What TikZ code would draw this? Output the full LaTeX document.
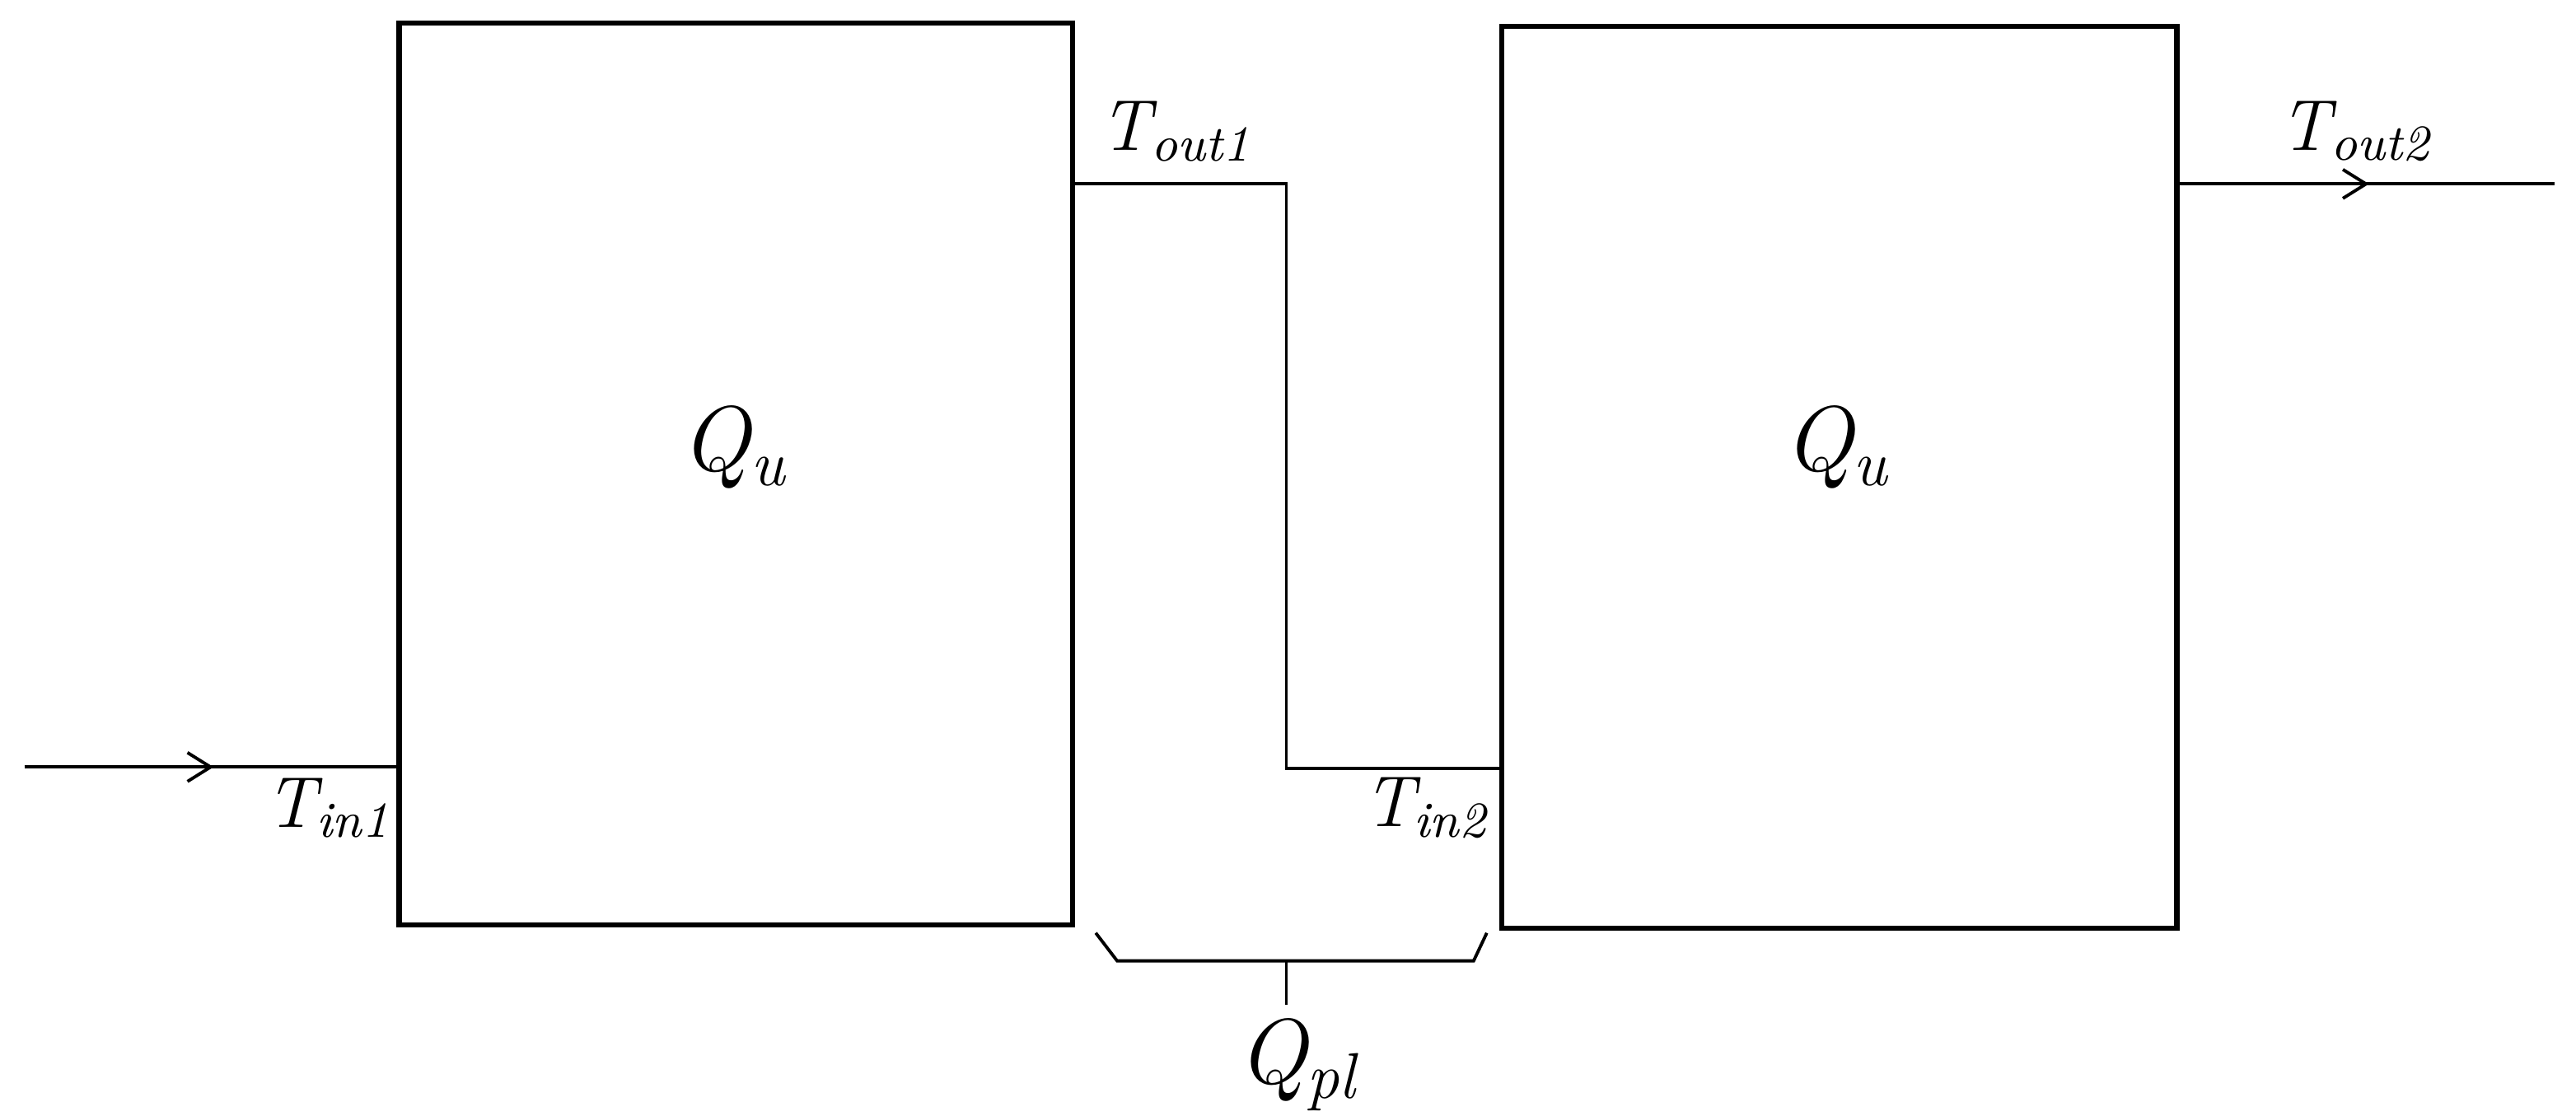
\documentclass[tikz,border=0pt]{standalone}
\usetikzlibrary{arrows.meta}
\begin{document}
\begin{tikzpicture}[x=0.01cm,y=-0.01cm,
  box/.style={draw,line width=0.9pt},
  wire/.style={line width=0.55pt},
  tip/.style={-{Straight Barb[length=4pt,width=5pt]},line width=0.55pt},
  lab/.style={font=\fontsize{12.5}{15}\selectfont\itshape},
  big/.style={font=\fontsize{16}{19}\selectfont\itshape}]
\useasboundingbox (0,0) rectangle (1568,679);
\draw[box] (243,14) rectangle (653,563);
\draw[box] (914,16) rectangle (1325,565);
\node[big] (q1) at (447,272) {Q\textsubscript{u}};
\node[big] (q2) at (1118,272) {Q\textsubscript{u}};
\coordinate (a0) at (15,467); \coordinate (a1) at (130,467); \coordinate (a2) at (243,467);
\draw[wire] (a0) -- (a2); \draw[tip] (a0) -- (a1);
\node[lab] (tin1) at (200,492) {T\textsubscript{in1}};
\coordinate (b0) at (653,112); \coordinate (b1) at (783,112); \coordinate (b2) at (783,468); \coordinate (b3) at (914,468);
\draw[wire] (b0) -- (b1) -- (b2) -- (b3);
\node[lab] (tout1) at (716,80) {T\textsubscript{out1}};
\node[lab] (tin2) at (868,492) {T\textsubscript{in2}};
\coordinate (c0) at (1325,112); \coordinate (c1) at (1442,112); \coordinate (c2) at (1555,112);
\draw[wire] (c0) -- (c2); \draw[tip] (c0) -- (c1);
\node[lab] (tout2) at (1434,80) {T\textsubscript{out2}};
\coordinate (d0) at (667,568); \coordinate (d1) at (680,585); \coordinate (d2) at (897,585); \coordinate (d3) at (905,568);
\coordinate (m0) at (783,585); \coordinate (m1) at (783,612);
\draw[wire] (d0) -- (d1) -- (d2) -- (d3);
\draw[wire] (m0) -- (m1);
\node[big] (qpl) at (790,648) {Q\textsubscript{pl}};
\end{tikzpicture}
\end{document}
